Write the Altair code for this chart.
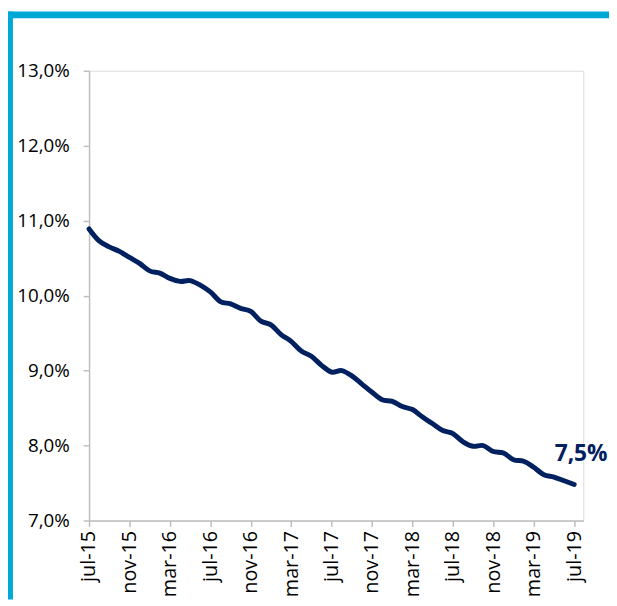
import altair as alt
import pandas as pd

# Monthly unemployment-type rate (%), jul-15 .. jul-19
rate = [10.89, 10.73, 10.65, 10.59, 10.51, 10.43, 10.33, 10.30, 10.23, 10.19,
        10.20, 10.14, 10.05, 9.92, 9.89, 9.83, 9.79, 9.66, 9.61, 9.48,
        9.39, 9.26, 9.19, 9.07, 8.98, 9.00, 8.93, 8.82, 8.71, 8.61,
        8.59, 8.52, 8.48, 8.38, 8.29, 8.20, 8.16, 8.05, 7.99, 8.00,
        7.92, 7.90, 7.81, 7.79, 7.71, 7.61, 7.58, 7.53, 7.48]
month_index = list(range(len(rate)))
tick_labels = ["jul-15", "nov-15", "mar-16", "jul-16", "nov-16", "mar-17", "jul-17",
               "nov-17", "mar-18", "jul-18", "nov-18", "mar-19", "jul-19"]
y_ticks = [7, 8, 9, 10, 11, 12, 13]

df = pd.DataFrame({"t": month_index, "rate": rate})
last_label = f"{rate[-1]:.1f}".replace(".", ",") + "%"
df_last = pd.DataFrame({"t": [month_index[-1]], "rate": [rate[-1]], "label": [last_label]})

NAVY = "#002060"
CYAN = "#00A8D6"
AXIS = "#BFBFBF"
FONT = "Open Sans"

W, H = 500, 455
PL, PT, PR, PB = 82, 60, 26, 80

labels_js = "[" + ",".join(f"'{s}'" for s in tick_labels) + "]"

x_enc = alt.X(
    "t:Q",
    scale=alt.Scale(domain=[0, 48.9], nice=False, zero=False),
    axis=alt.Axis(
        values=list(range(0, 49, 4)),
        labelExpr=f"{labels_js}[round(datum.value/4)]",
        title=None, grid=False, labelAngle=270, labelAlign="right",
        labelBaseline="middle", tickSize=6, labelPadding=4,
        domainColor=AXIS, tickColor=AXIS, domainWidth=1.5, tickWidth=1.5,
        labelFont=FONT, labelFontSize=20, labelColor="#000000",
    ),
)
y_enc = alt.Y(
    "rate:Q",
    scale=alt.Scale(domain=[7, 13], nice=False, zero=False),
    axis=alt.Axis(
        values=y_ticks,
        labelExpr="replace(format(datum.value, '.1f'), '.', ',') + '%'",
        title=None, grid=False, tickSize=6, labelPadding=14,
        domainColor=AXIS, tickColor=AXIS, domainWidth=1.5, tickWidth=1.5,
        labelFont=FONT, labelFontSize=19, labelColor="#000000",
    ),
)

line = alt.Chart(df).mark_line(
    color=NAVY, strokeWidth=5, interpolate="cardinal", strokeCap="round", strokeJoin="round"
).encode(x=x_enc, y=y_enc)

label = alt.Chart(df_last).mark_text(
    color=NAVY, font=FONT, fontSize=23, fontWeight="bold",
    align="center", baseline="alphabetic", dx=7, dy=-24
).encode(x="t:Q", y="rate:Q", text="label:N")

one = pd.DataFrame({"k": [0]})
top_bar = alt.Chart(one).mark_rect(color=CYAN).encode(
    x=alt.value(-PL), x2=alt.value(W + PR), y=alt.value(-PT), y2=alt.value(-PT + 7)
)
left_bar = alt.Chart(one).mark_rect(color=CYAN).encode(
    x=alt.value(-PL), x2=alt.value(-PL + 5), y=alt.value(-PT), y2=alt.value(H + PB)
)

chart = alt.layer(top_bar, left_bar, line, label).properties(
    width=W, height=H,
    padding={"left": PL, "top": PT, "right": PR, "bottom": PB},
    autosize=alt.AutoSizeParams(type="none"),
).configure_view(stroke=None).configure(background="#FFFFFF")

chart.save("out.html", embed_options={"renderer": "svg", "actions": False})
